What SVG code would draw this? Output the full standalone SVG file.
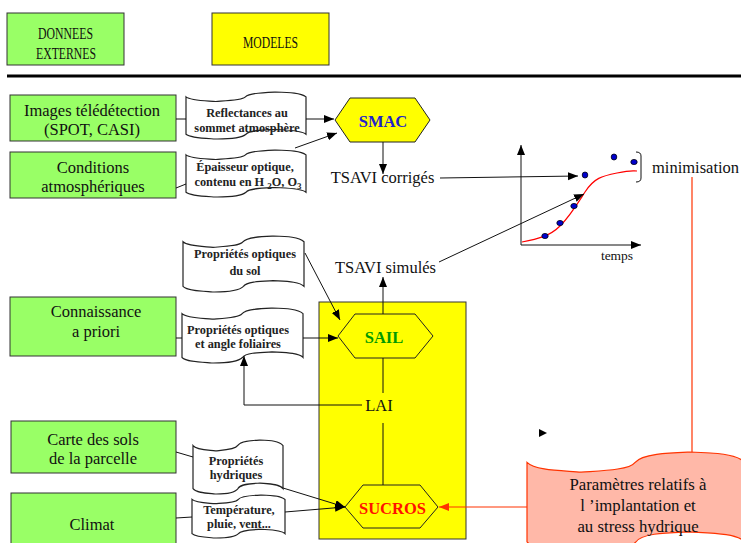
<svg xmlns="http://www.w3.org/2000/svg" xmlns:xlink="http://www.w3.org/1999/xlink" width="741" height="543" viewBox="0 0 741 543">
<style>
.green{fill:#99ff66;stroke:#333;stroke-width:1}
.yellow{fill:#ffff00;stroke:#333;stroke-width:1}
.hex{fill:#ffff00;stroke:#222;stroke-width:1}
.tape{fill:#fff;stroke:#222;stroke-width:1.2}
.pink{fill:#ffb8a8;stroke:#ff3300;stroke-width:1.2}
.t{font-family:"Liberation Serif",serif;font-size:16.5px;fill:#111;text-anchor:middle}
.hdr{font-family:"Liberation Serif",serif;font-size:16px;fill:#111;text-anchor:middle}
.s{font-family:"Liberation Serif",serif;font-size:12.3px;font-weight:bold;fill:#222;text-anchor:middle}
.hx{font-family:"Liberation Serif",serif;font-size:16.5px;font-weight:bold;text-anchor:middle}
.ln{fill:none;stroke:#111;stroke-width:1}
.rl{fill:none;stroke:#ff3300;stroke-width:1.2}
.dot{fill:#0000cc;stroke:#001;stroke-width:0.8}
</style>
<defs>
<path id="tapeShape" vector-effect="non-scaling-stroke" d="M0,0.1032 C0.038,0.1847 0.1579,0.1843 0.2486,0.2019 C0.344,0.1866 0.4681,0.1801 0.4949,0.1051 C0.5296,0.0139 0.6574,0.0074 0.7477,0 C0.8644,0.0079 0.9579,0.0181 1,0.1032 L1,0.8991 C0.9616,0.8107 0.844,0.8111 0.7435,0.7981 C0.6481,0.8074 0.5259,0.8097 0.4995,0.8995 C0.4639,0.9792 0.3431,1.0019 0.2449,1 C0.1481,0.9847 0.037,0.9792 0,0.8991 Z"/>
<marker id="ah" markerUnits="userSpaceOnUse" markerWidth="11" markerHeight="9" refX="10" refY="4" orient="auto"><path d="M0,0 L10,4 L0,8 Z" fill="#000"/></marker>
<marker id="ahr" markerUnits="userSpaceOnUse" markerWidth="11" markerHeight="9" refX="10" refY="4" orient="auto"><path d="M0,0 L10,4 L0,8 Z" fill="#ff3300"/></marker>
</defs>

<g id="header-donnees"><rect class="green" x="7" y="13" width="117" height="52"/><text class="hdr" x="65.5" y="39" textLength="55" lengthAdjust="spacingAndGlyphs">DONNEES</text><text class="hdr" x="66" y="59" textLength="60" lengthAdjust="spacingAndGlyphs">EXTERNES</text></g>
<g id="header-modeles"><rect class="yellow" x="212" y="13" width="117" height="52"/><text class="hdr" x="270.5" y="48" textLength="55" lengthAdjust="spacingAndGlyphs">MODELES</text></g>
<g id="separator"><rect x="7" y="74.5" width="734" height="3" fill="#000"/></g>

<g id="images"><rect class="green" x="10" y="95" width="166" height="46"/><text class="t" x="92" y="116">Images télédétection</text><text class="t" x="92" y="135">(SPOT, CASI)</text></g>
<g id="conditions"><rect class="green" x="10" y="152" width="166" height="46"/><text class="t" x="93" y="173">Conditions</text><text class="t" x="93" y="192">atmosphériques</text></g>
<g id="connaissance"><rect class="green" x="10" y="297" width="166" height="59"/><text class="t" x="96" y="317">Connaissance</text><text class="t" x="96" y="337">a priori</text></g>
<g id="carte"><rect class="green" x="11" y="421" width="165" height="52"/><text class="t" x="93" y="445">Carte des sols</text><text class="t" x="93" y="464">de la parcelle</text></g>
<g id="climat"><rect class="green" x="11" y="493" width="165" height="54"/><text class="t" x="92" y="530">Climat</text></g>

<g id="reflectances"><use xlink:href="#tapeShape" class="tape" transform="translate(186,92) scale(120,47)"/><text class="s" x="247" y="117">Reflectances au</text><text class="s" x="247" y="132">sommet atmosphère</text></g>
<g id="epaisseur"><use xlink:href="#tapeShape" class="tape" transform="translate(186,150) scale(120,47)"/><text class="s" x="245" y="171">Épaisseur optique,</text><text class="s" x="248" y="186">contenu en H <tspan dy="3" font-size="9">2</tspan><tspan dy="-3">O, O</tspan><tspan dy="3" font-size="9">3</tspan></text></g>
<g id="prop-sol"><use xlink:href="#tapeShape" class="tape" transform="translate(183,236) scale(121,56)"/><text class="s" x="245" y="258">Propriétés optiques</text><text class="s" x="245" y="275">du sol</text></g>
<g id="prop-foliaires"><use xlink:href="#tapeShape" class="tape" transform="translate(182,308) scale(121,55)"/><text class="s" x="238" y="334">Propriétés optiques</text><text class="s" x="238" y="348">et angle foliaires</text></g>
<g id="prop-hydriques"><use xlink:href="#tapeShape" class="tape" transform="translate(193,440) scale(90,54)"/><text class="s" x="236" y="465">Propriétés</text><text class="s" x="236" y="479">hydriques</text></g>
<g id="temperature"><use xlink:href="#tapeShape" class="tape" transform="translate(192,495) scale(93,43)"/><text class="s" x="239" y="514">Température,</text><text class="s" x="239" y="528">pluie, vent...</text></g>

<g id="modeles-frame"><rect class="yellow" x="319" y="302" width="147" height="237"/></g>
<g id="smac"><polygon class="hex" points="335,120 350,98 415,98 430,120 415,142 350,142"/><text class="hx" x="383" y="127" fill="#2222cc">SMAC</text></g>
<g id="sail"><polygon class="hex" points="338,336 355,314 415,314 433,336 415,358 355,358"/><text class="hx" x="384" y="343" fill="#009900">SAIL</text></g>
<g id="sucros"><polygon class="hex" points="345,507 363,485 420,485 438,507 420,528 363,528"/><text class="hx" x="392.5" y="514" fill="#ff1100">SUCROS</text></g>

<g id="tsavi-corriges"><text class="t" x="382.5" y="183">TSAVI corrigés</text></g>
<g id="tsavi-simules"><text class="t" x="385.5" y="273">TSAVI simulés</text></g>
<g id="lai"><text class="t" x="379" y="411">LAI</text></g>
<g id="minimisation"><text class="t" x="652" y="173" style="text-anchor:start">minimisation</text></g>

<g id="graph">
<line class="ln" x1="521" y1="245" x2="521" y2="145" marker-end="url(#ah)"/>
<line class="ln" x1="521" y1="245" x2="641" y2="245" marker-end="url(#ah)"/>
<text class="t" x="617" y="260" style="font-size:13.5px">temps</text>
<path d="M522,242 C538,239 550,236 560,226 S576,206 585,192 S602,176 617,173 S632,171 637,171" fill="none" stroke="#ff0000" stroke-width="1.2"/>
<ellipse class="dot" cx="545" cy="236" rx="3.2" ry="2.6"/>
<ellipse class="dot" cx="560" cy="223" rx="3.2" ry="2.6"/>
<ellipse class="dot" cx="574" cy="206" rx="3.2" ry="2.6"/>
<ellipse class="dot" cx="585" cy="175" rx="2.8" ry="3"/>
<ellipse class="dot" cx="614" cy="157" rx="2.8" ry="3"/>
<ellipse class="dot" cx="634" cy="162" rx="3.2" ry="2.6"/>
<path class="ln" d="M636,152 Q641,152 641,156 L641,178 Q641,182 636,182"/>
</g>

<g id="parametres"><use xlink:href="#tapeShape" class="pink" transform="translate(527,452) scale(218,100)"/><text class="t" x="638" y="490" style="font-size:16.8px">Paramètres relatifs à</text><text class="t" x="638" y="511" style="font-size:16.8px">l ’implantation et</text><text class="t" x="638" y="532" style="font-size:16.8px">au stress hydrique</text></g>

<g id="connectors">
<line class="ln" x1="176" y1="119" x2="186" y2="119"/>
<line class="ln" x1="306" y1="119" x2="334" y2="119" marker-end="url(#ah)"/>
<line class="ln" x1="176" y1="188" x2="186" y2="184"/>
<line class="ln" x1="295" y1="148" x2="337" y2="133" marker-end="url(#ah)"/>
<line class="ln" x1="383" y1="142" x2="383" y2="174" marker-end="url(#ah)"/>
<line class="ln" x1="440" y1="178" x2="578" y2="176" marker-end="url(#ah)"/>
<line class="ln" x1="439" y1="262" x2="584" y2="194" marker-end="url(#ah)"/>
<line class="ln" x1="305" y1="253" x2="340" y2="320" marker-end="url(#ah)"/>
<line class="ln" x1="176" y1="338" x2="182" y2="338"/>
<line class="ln" x1="303" y1="338" x2="338" y2="338" marker-end="url(#ah)"/>
<line class="ln" x1="383" y1="314" x2="383" y2="277" marker-end="url(#ah)"/>
<line class="ln" x1="383" y1="358" x2="383" y2="393"/>
<line class="ln" x1="383" y1="423" x2="383" y2="485"/>
<polyline class="ln" points="362,405 244,405 244,356" marker-end="url(#ah)"/>
<line class="ln" x1="176" y1="452" x2="193" y2="457"/>
<line class="ln" x1="283" y1="488" x2="345" y2="507" marker-end="url(#ah)"/>
<line class="ln" x1="176" y1="518" x2="192" y2="517"/>
<line class="ln" x1="285" y1="512" x2="345" y2="507" marker-end="url(#ah)"/>
<line class="rl" x1="527" y1="507" x2="439" y2="507" marker-end="url(#ahr)"/>
<line class="rl" x1="692" y1="177" x2="692" y2="452"/>
<polygon points="539,429 547,433 539,437" fill="#000"/>
</g>
</svg>
